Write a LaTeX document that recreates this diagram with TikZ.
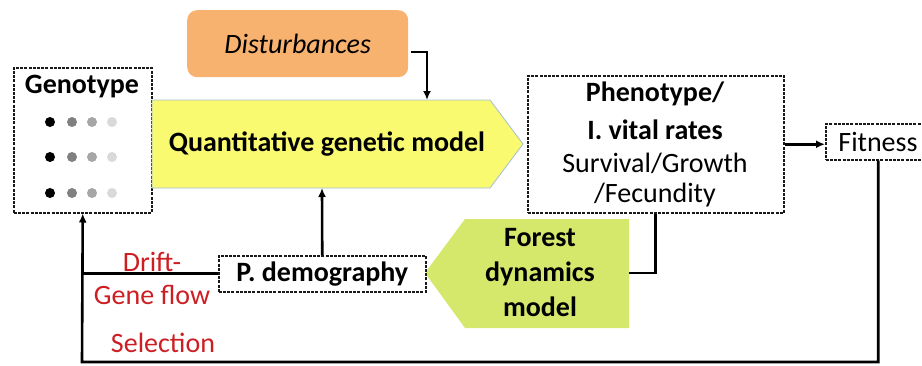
\documentclass[tikz,border=0pt]{standalone}
\usepackage{fontspec}
\setmainfont{Carlito}
\usetikzlibrary{arrows.meta}
\definecolor{qyel}{RGB}{249,250,112}
\definecolor{qbord}{RGB}{160,190,215}
\definecolor{dorange}{RGB}{248,178,112}
\definecolor{fgreen}{RGB}{213,232,108}
\definecolor{rtext}{RGB}{205,30,35}
\begin{document}
\begin{tikzpicture}[x=1pt,y=-1pt,
  dbox/.style={draw=black!90, line width=1.5pt, dash pattern=on 3pt off 1.2pt, fill=white, inner sep=0pt, anchor=north west},
  txt/.style={font=\fontsize{28}{33}\selectfont, inner sep=0pt},
  btxt/.style={font=\fontsize{28}{33}\selectfont\bfseries, inner sep=0pt},
  rtxt/.style={font=\fontsize{28}{33}\selectfont, text=rtext, inner sep=0pt},
  conn/.style={draw=black, line width=2.6pt},
  tip/.style={-{Latex[length=9pt,width=8pt]}},
  dot/.style={circle, inner sep=0pt, minimum size=10pt}
]
\useasboundingbox (0,0) rectangle (922,365);
% Disturbances
\node[fill=dorange, rounded corners=10pt, minimum width=221pt, minimum height=67pt, anchor=north west, inner sep=0pt] (dist) at (187,10) {};
\node[txt, font=\fontsize{28}{33}\selectfont\itshape] (distt) at (dist.center) {Disturbances};
% Genotype
\node[dbox, minimum width=138pt, minimum height=145pt] (geno) at (13,67) {};
\node[btxt] (genot) at (82,87) {Genotype};
\foreach \r [count=\i] in {122,157,193}{
  \node[dot, fill=black] (d\i a) at (50,\r) {};
  \node[dot, fill=black!50] (d\i b) at (72,\r) {};
  \node[dot, fill=black!35] (d\i c) at (92,\r) {};
  \node[dot, fill=black!15] (d\i d) at (112,\r) {};
}
% Quantitative genetic model
\path[fill=qyel, draw=qbord, line width=0.8pt] (152,100) -- (490,100) -- (523,144) -- (490,188) -- (152,188) -- cycle;
\node[btxt] (qgm) at (327,144) {Quantitative genetic model};
\coordinate (qtop) at (427,100);
\coordinate (qbot) at (322,188);
% Phenotype
\node[dbox, minimum width=256pt, minimum height=137pt] (pheno) at (527,75) {};
\node[btxt] (ph1) at (655,94) {Phenotype/};
\node[btxt] (ph2) at (655,130) {I. vital rates};
\node[txt] (ph3) at (655,163) {Survival/Growth};
\node[txt] (ph4) at (655,195) {/Fecundity};
% Fitness
\node[dbox, minimum width=105pt, minimum height=36pt] (fit) at (825,123) {};
\node[txt] (fitt) at (878,142) {Fitness};
% Forest dynamics model
\path[fill=fgreen] (465,219) -- (629,219) -- (629,328) -- (465,328) -- (425,273) -- cycle;
\node[btxt, align=center, font=\fontsize{28}{35}\selectfont\bfseries] (fdm) at (540,273) {Forest\\dynamics\\model};
\coordinate (fright) at (629,273);
% P. demography
\node[dbox, minimum width=207pt, minimum height=36pt] (pdem) at (218,255) {};
\node[btxt] (pdemt) at (pdem.center) {P. demography};
% red labels
\node[rtxt] (drift) at (152,262) {Drift-};
\node[rtxt] (gflow) at (152,295) {Gene flow};
\node[rtxt] (sel) at (163,343) {Selection};
% connectors
\coordinate (dout) at (411,52);
\draw[conn, tip] (dout) -| (qtop);
\draw[conn, tip] (pheno.east) -- (pheno.east -| fit.west);
\coordinate (bl) at (82,362);
\draw[conn, tip] (fit.south) |- (bl) -- (geno.south);
\draw[conn] (pheno.south) |- (fright);
\draw[conn, tip] (pdem.north) -- (qbot);
\draw[conn] (pdem.west) -- (pdem.west -| geno.south);
\end{tikzpicture}
\end{document}
